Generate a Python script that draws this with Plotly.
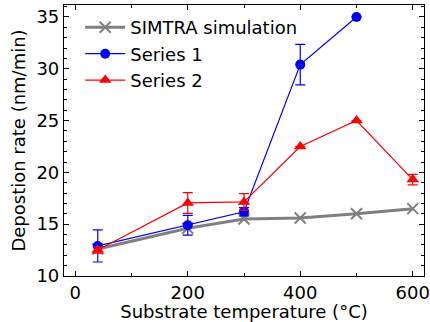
import plotly.graph_objects as go

temp_sim = [40, 200, 300, 400, 500, 600]
rate_sim = [12.6, 14.6, 15.5, 15.6, 16.0, 16.5]

temp_s1 = [40, 200, 300, 400, 500]
rate_s1 = [12.9, 14.9, 16.2, 30.4, 35.0]
err_s1 = [1.55, 0.95, 0.4, 1.95, 0.0]

temp_s2 = [40, 200, 300, 400, 500, 600]
rate_s2 = [12.5, 17.05, 17.15, 22.5, 25.0, 19.3]
err_s2 = [0.3, 1.0, 0.8, 0.0, 0.0, 0.5]

font = "DejaVu Sans"
fs = 18

fig = go.Figure()
fig.add_trace(go.Scatter(
    x=temp_sim, y=rate_sim, mode="lines+markers", name="SIMTRA simulation",
    line=dict(color="#808080", width=3),
    marker=dict(symbol="x-thin", size=11, line=dict(color="#808080", width=2), color="#808080"),
))
fig.add_trace(go.Scatter(
    x=temp_s1, y=rate_s1, mode="lines+markers", name="Series 1",
    line=dict(color="blue", width=1.2),
    marker=dict(symbol="circle", size=10, color="blue"),
    error_y=dict(type="data", array=err_s1, color="blue", thickness=1.2, width=5),
))
fig.add_trace(go.Scatter(
    x=temp_s2, y=rate_s2, mode="lines+markers", name="Series 2",
    line=dict(color="red", width=1.2),
    marker=dict(symbol="triangle-up", size=11, color="red"),
    error_y=dict(type="data", array=err_s2, color="red", thickness=1.2, width=5),
))

axis_common = dict(
    showline=True, linecolor="black", linewidth=1.2, mirror="ticks",
    ticks="inside", ticklen=5, tickwidth=1, tickcolor="black",
    showgrid=False, zeroline=False,
    tickfont=dict(family=font, size=fs, color="black"),
)
fig.update_xaxes(
    range=[-20, 620], tickvals=[0, 200, 400, 600],
    minor=dict(dtick=100, tick0=0, ticks="inside", ticklen=3, tickcolor="black", showgrid=False),
    title=dict(text="Substrate temperature (°C)", font=dict(family=font, size=fs, color="black"), standoff=4),
    **axis_common,
)
fig.update_yaxes(
    range=[10, 36.15], tickvals=[10, 15, 20, 25, 30, 35],
    minor=dict(dtick=1, tick0=10, ticks="inside", ticklen=3, tickcolor="black", showgrid=False),
    title=dict(text="Depostion rate (nm/min)", font=dict(family=font, size=fs, color="black"), standoff=6),
    **axis_common,
)
fig.update_layout(
    width=430, height=322,
    margin=dict(l=64, r=6, t=5, b=46, autoexpand=False),
    plot_bgcolor="white", paper_bgcolor="white",
    legend=dict(x=0.045, y=0.985, xanchor="left", yanchor="top",
                font=dict(family=font, size=fs, color="black"),
                bgcolor="rgba(0,0,0,0)", itemwidth=40, tracegroupgap=0),
    showlegend=True,
)
fig.write_html("out.html", config={"displayModeBar": False},
               post_script="document.body.style.margin='0';document.body.style.padding='0';")
